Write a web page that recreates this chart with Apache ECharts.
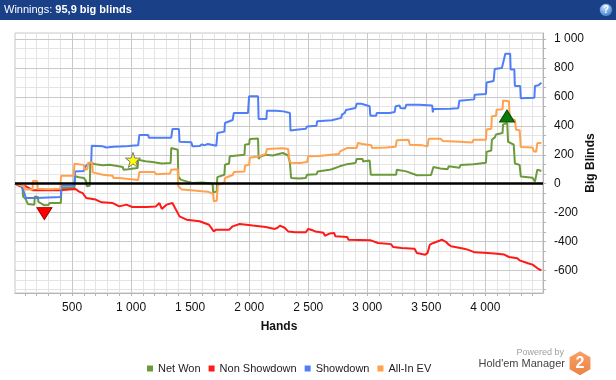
<!DOCTYPE html>
<html><head><meta charset="utf-8">
<script src="https://cdn.jsdelivr.net/npm/echarts@6/dist/echarts.min.js"></script>
<style>html,body{margin:0;padding:0;background:#fff}#c{width:616px;height:380px}</style>
</head><body><div id="c"></div>
<script>
const titleLabel = 'Winnings: ';
const titleValue = '95,9 big blinds';
const seriesNames = ['Net Won', 'Non Showdown', 'Showdown', 'All-In EV'];
const xAxisName = 'Hands';
const yAxisName = 'Big Blinds';

// [hand, big blinds]
const netWon = [[17,0],[50,-5],[80,-15],[85,-88],[110,-110],[125,-140],[180,-145],[185,-88],[210,-92],[215,-125],[265,-150],[300,-148],[310,-134],[405,-134],[410,-30],[520,-30],[525,51],[560,45],[600,40],[620,16],[625,-18],[650,-15],[655,143],[700,135],[760,128],[820,131],[830,120],[930,115],[935,97],[975,100],[980,108],[1055,108],[1060,166],[1075,160],[1120,155],[1180,150],[1190,143],[1260,140],[1335,143],[1340,247],[1395,235],[1400,51],[1420,28],[1470,16],[1520,5],[1600,8],[1650,5],[1690,0],[1695,-60],[1725,-55],[1730,45],[1790,62],[1795,131],[1830,140],[1835,189],[1900,195],[1960,200],[1965,270],[2000,275],[2005,309],[2075,312],[2080,170],[2090,185],[2140,200],[2200,195],[2250,205],[2285,212],[2330,195],[2345,143],[2355,39],[2420,35],[2480,40],[2490,62],[2570,65],[2580,85],[2680,97],[2700,100],[2766,120],[2830,135],[2900,143],[2910,170],[2960,171],[2965,154],[3020,160],[3030,62],[3160,62],[3245,62],[3250,97],[3330,85],[3340,74],[3420,58],[3540,60],[3560,115],[3620,105],[3680,100],[3690,120],[3780,110],[3790,130],[3900,135],[3910,145],[4005,145],[4010,220],[4050,230],[4055,304],[4080,320],[4090,340],[4145,350],[4150,410],[4185,420],[4192,290],[4240,270],[4250,140],[4290,130],[4300,50],[4400,41],[4420,14],[4435,12],[4440,97],[4474,88]];
const nonShowdown = [[17,0],[40,-10],[60,-18],[110,-18],[170,-46],[400,-46],[410,-37],[530,-37],[560,-55],[590,-65],[620,-99],[700,-110],[750,-129],[845,-134],[900,-157],[960,-145],[1010,-161],[1130,-161],[1210,-157],[1240,-134],[1260,-175],[1300,-145],[1350,-134],[1410,-226],[1470,-249],[1580,-260],[1660,-284],[1700,-330],[1720,-318],[1830,-318],[1860,-295],[1920,-279],[2030,-290],[2140,-300],[2216,-313],[2240,-305],[2260,-290],[2300,-305],[2330,-330],[2390,-336],[2480,-336],[2500,-313],[2530,-320],[2560,-330],[2630,-340],[2640,-360],[2680,-345],[2720,-341],[2730,-364],[2830,-368],[2840,-387],[3030,-392],[3090,-410],[3200,-418],[3220,-438],[3290,-445],[3400,-450],[3420,-479],[3490,-491],[3510,-480],[3530,-422],[3560,-410],[3610,-395],[3630,-387],[3670,-405],[3690,-422],[3710,-433],[3820,-450],[3850,-456],[3910,-475],[4020,-479],[4100,-485],[4160,-490],[4200,-507],[4270,-515],[4290,-530],[4360,-550],[4400,-560],[4450,-590],[4474,-600]];
const showdown = [[17,0],[60,-5],[85,-40],[110,-99],[190,-99],[200,-92],[405,-92],[410,-14],[520,-14],[525,85],[600,88],[615,120],[640,140],[662,142],[667,262],[760,258],[790,250],[850,255],[950,258],[1000,262],[1060,265],[1070,337],[1145,337],[1150,318],[1340,318],[1350,378],[1405,378],[1410,290],[1510,286],[1520,258],[1580,260],[1600,272],[1620,265],[1650,275],[1665,262],[1722,262],[1731,350],[1790,360],[1795,420],[1860,440],[1870,489],[1990,489],[1999,604],[2075,604],[2080,447],[2146,447],[2150,505],[2230,505],[2240,495],[2290,500],[2300,489],[2345,489],[2350,367],[2400,373],[2480,380],[2490,396],[2570,400],[2575,431],[2700,438],[2710,447],[2780,455],[2785,477],[2810,489],[2820,510],[2900,523],[2910,553],[2950,553],[2955,562],[2965,540],[3020,535],[3026,470],[3075,470],[3080,489],[3190,489],[3232,495],[3240,535],[3274,540],[3280,523],[3320,520],[3330,546],[3440,546],[3450,540],[3550,540],[3555,493],[3560,516],[3700,519],[3770,522],[3780,574],[3905,583],[3910,615],[4005,620],[4010,700],[4070,710],[4079,793],[4140,800],[4145,802],[4169,899],[4210,899],[4214,790],[4245,790],[4250,675],[4295,675],[4300,590],[4415,595],[4420,675],[4450,680],[4474,698]];
const allInEV = [[17,0],[40,-5],[55,-18],[95,-20],[100,-41],[165,-41],[170,20],[205,18],[210,-35],[300,-38],[400,-35],[407,55],[515,55],[520,138],[600,130],[605,97],[630,100],[635,143],[670,150],[675,78],[760,62],[845,55],[850,39],[900,40],[905,46],[1060,25],[1070,80],[1200,80],[1210,65],[1330,70],[1340,97],[1395,100],[1400,-18],[1430,-41],[1510,-45],[1600,-52],[1650,-55],[1660,-65],[1695,-70],[1700,-122],[1725,-118],[1735,-7],[1790,5],[1795,39],[1860,60],[1870,80],[1960,85],[1965,125],[2000,130],[2005,180],[2085,190],[2090,200],[2140,205],[2150,240],[2280,245],[2290,258],[2330,240],[2340,170],[2350,145],[2430,143],[2490,150],[2500,189],[2590,192],[2600,200],[2760,205],[2770,224],[2830,247],[2910,247],[2920,281],[2960,275],[3035,265],[3040,247],[3160,250],[3240,255],[3250,300],[3350,304],[3360,270],[3470,265],[3510,258],[3520,310],[3620,310],[3640,295],[3780,290],[3790,281],[3890,285],[3900,304],[4005,304],[4010,375],[4050,380],[4055,466],[4090,470],[4095,512],[4145,515],[4150,576],[4200,570],[4206,450],[4250,440],[4260,373],[4290,370],[4300,254],[4400,250],[4410,224],[4430,220],[4440,281],[4474,281]];

const xLabelValues = [500, 1000, 1500, 2000, 2500, 3000, 3500, 4000];
const yLabelValues = [-600, -400, -200, 0, 200, 400, 600, 800, 1000];
const markerHands = [1016, 266, 4183];
const markerValues = [164, -207, 468];

const X_MIN = 17, X_MAX = 4488, Y_MIN = -756, Y_MAX = 1042;
const FONT = 'Liberation Sans';
const colors = ['#6b9a3c', '#ff1a1a', '#4f7ef8', '#ffa14d'];

const xMinor = [], xMajor = [];
for (let v = 100; v < X_MAX; v += 100) (v % 500 === 0 ? xMajor : xMinor).push(v);
const yMinor = [], yMajor = [];
for (let k = Math.ceil(Y_MIN / (200 / 3)); k * 200 / 3 <= Y_MAX; k++) {
  const v = k * 200 / 3;
  (k % 3 === 0 ? yMajor : yMinor).push(Math.round(v * 1000) / 1000);
}
const xTicks = xMinor.concat(xMajor).sort((a, b) => a - b);
const yTicks = yMinor.concat(yMajor).sort((a, b) => a - b);
const fmt = v => String(Math.round(v)).replace(/\B(?=(\d{3})+(?!\d))/g, ' ');

const gridLines = [];
xMinor.forEach(v => gridLines.push({ xAxis: v, lineStyle: { color: '#e4e4e4', width: 1, type: 'solid' } }));
yMinor.forEach(v => gridLines.push({ yAxis: v, lineStyle: { color: '#e4e4e4', width: 1, type: 'solid' } }));
xMajor.forEach(v => gridLines.push({ xAxis: v, lineStyle: { color: '#c8c8c8', width: 1, type: 'solid' } }));
yMajor.forEach(v => gridLines.push({ yAxis: v, lineStyle: { color: '#c8c8c8', width: 1, type: 'solid' } }));

const starPath = 'path://M50,2 L61.5,36 L97,36 L68.5,57.5 L79,92 L50,71 L21,92 L31.5,57.5 L3,36 L38.5,36 Z';

const chart = echarts.init(document.getElementById('c'), null, { renderer: 'canvas' });
const lineSeries = [netWon, nonShowdown, showdown, allInEV].map((d, i) => ({
  name: seriesNames[i], type: 'line', data: d, showSymbol: false, symbol: 'none',
  lineStyle: { width: 2, color: colors[i] }, itemStyle: { color: colors[i] },
  z: 3 + i, silent: true, animation: false
}));

chart.setOption({
  animation: false,
  backgroundColor: '#ffffff',
  grid: { left: 15, right: 73, top: 33, bottom: 87, show: true, borderColor: '#c6c6c6', borderWidth: 1, containLabel: false, outerBoundsMode: 'none' },
  xAxis: {
    type: 'value', min: X_MIN, max: X_MAX, position: 'bottom',
    name: xAxisName, nameLocation: 'middle', nameGap: 28, nameMoveOverlap: false,
    nameTextStyle: { fontFamily: FONT, fontSize: 12, fontWeight: 'bold', color: '#111' },
    axisLine: { show: true, onZero: false, lineStyle: { color: '#b4b4b4', width: 1 } },
    axisTick: { show: true, length: 3, customValues: xTicks, lineStyle: { color: '#b4b4b4' } },
    axisLabel: { customValues: xLabelValues, formatter: fmt, margin: 9, color: '#111', fontSize: 12, fontFamily: FONT },
    splitLine: { show: false }
  },
  yAxis: {
    type: 'value', min: Y_MIN, max: Y_MAX, position: 'right',
    name: yAxisName, nameLocation: 'middle', nameGap: 42, nameMoveOverlap: false,
    nameTextStyle: { fontFamily: FONT, fontSize: 12, fontWeight: 'bold', color: '#111' },
    axisLine: { show: true, onZero: false, lineStyle: { color: '#b4b4b4', width: 1 } },
    axisTick: { show: true, length: 3, customValues: yTicks, lineStyle: { color: '#b4b4b4' } },
    axisLabel: { customValues: yLabelValues, formatter: fmt, margin: 11, color: '#111', fontSize: 12, fontFamily: FONT },
    splitLine: { show: false }
  },
  legend: {
    data: seriesNames, left: 147, top: 363, padding: 0, icon: 'rect', itemWidth: 6, itemHeight: 6, itemGap: 8,
    selectedMode: false, textStyle: { fontFamily: FONT, fontSize: 11, color: '#222' }
  },
  series: [
    { type: 'line', data: [], z: 1, silent: true,
      markLine: { z: 1, silent: true, symbol: ['none', 'none'], label: { show: false }, animation: false, data: gridLines } },
    ...lineSeries,
    { type: 'line', data: [], z: 10, silent: true,
      markLine: { z: 10, silent: true, symbol: ['none', 'none'], label: { show: false }, animation: false,
        data: [{ yAxis: 0, lineStyle: { color: '#000', width: 2.5, type: 'solid' } }] } },
    { type: 'scatter', z: 12, silent: true, data: [
      { value: [markerHands[0], markerValues[0]], symbol: starPath, symbolSize: 15, itemStyle: { color: '#ffff00', borderColor: '#7a7a7a', borderWidth: 1, opacity: 1 } },
      { value: [markerHands[1], markerValues[1]], symbol: 'triangle', symbolRotate: 180, symbolSize: [15, 12], itemStyle: { color: '#ff0000', borderColor: '#a00000', borderWidth: 1, opacity: 1 } },
      { value: [markerHands[2], markerValues[2]], symbol: 'triangle', symbolSize: [15, 12], itemStyle: { color: '#0b7a0b', borderColor: '#065006', borderWidth: 1, opacity: 1 } }
    ] }
  ],
  graphic: [
    { type: 'rect', z: 100, shape: { x: 0, y: 0, width: 616, height: 20 }, style: { fill: '#1a4088' } },
    { type: 'text', z: 101, x: 4, y: 10, style: {
      text: '{a|' + titleLabel + '}{b|' + titleValue + '}', verticalAlign: 'middle',
      rich: { a: { fill: '#ffffff', fontSize: 11, fontFamily: FONT }, b: { fill: '#ffffff', fontSize: 11, fontFamily: FONT, fontWeight: 'bold' } } } },
    { type: 'circle', z: 101, shape: { cx: 606, cy: 10, r: 6.5 }, style: {
      fill: new echarts.graphic.RadialGradient(0.4, 0.3, 0.8, [{ offset: 0, color: '#bfe0ff' }, { offset: 1, color: '#2e6fc4' }]), stroke: '#0e2f66', lineWidth: 0.5 } },
    { type: 'text', z: 102, x: 606, y: 10.5, style: { text: '?', fill: '#ffffff', fontSize: 10, fontWeight: 'bold', fontFamily: FONT, align: 'center', verticalAlign: 'middle' } },
    { type: 'text', z: 101, x: 564, y: 353, style: { text: 'Powered by', fill: '#a0a0a0', fontSize: 9, fontFamily: FONT, align: 'right', verticalAlign: 'middle' } },
    { type: 'text', z: 101, x: 565, y: 364, style: { text: "Hold'em Manager", fill: '#444444', fontSize: 11, fontFamily: FONT, align: 'right', verticalAlign: 'middle' } },
    { type: 'polygon', z: 101, shape: { points: [[580, 351.3], [590.4, 357.3], [590.4, 369.3], [580, 375.3], [569.6, 369.3], [569.6, 357.3]] },
      style: { fill: new echarts.graphic.LinearGradient(0, 0, 0, 1, [{ offset: 0, color: '#f7a066' }, { offset: 1, color: '#ee8244' }]) } },
    { type: 'text', z: 102, x: 580, y: 364, style: { text: '2', fill: '#ffffff', fontSize: 16, fontWeight: 'bold', fontFamily: FONT, align: 'center', verticalAlign: 'middle' } }
  ]
});
</script>
</body></html>
